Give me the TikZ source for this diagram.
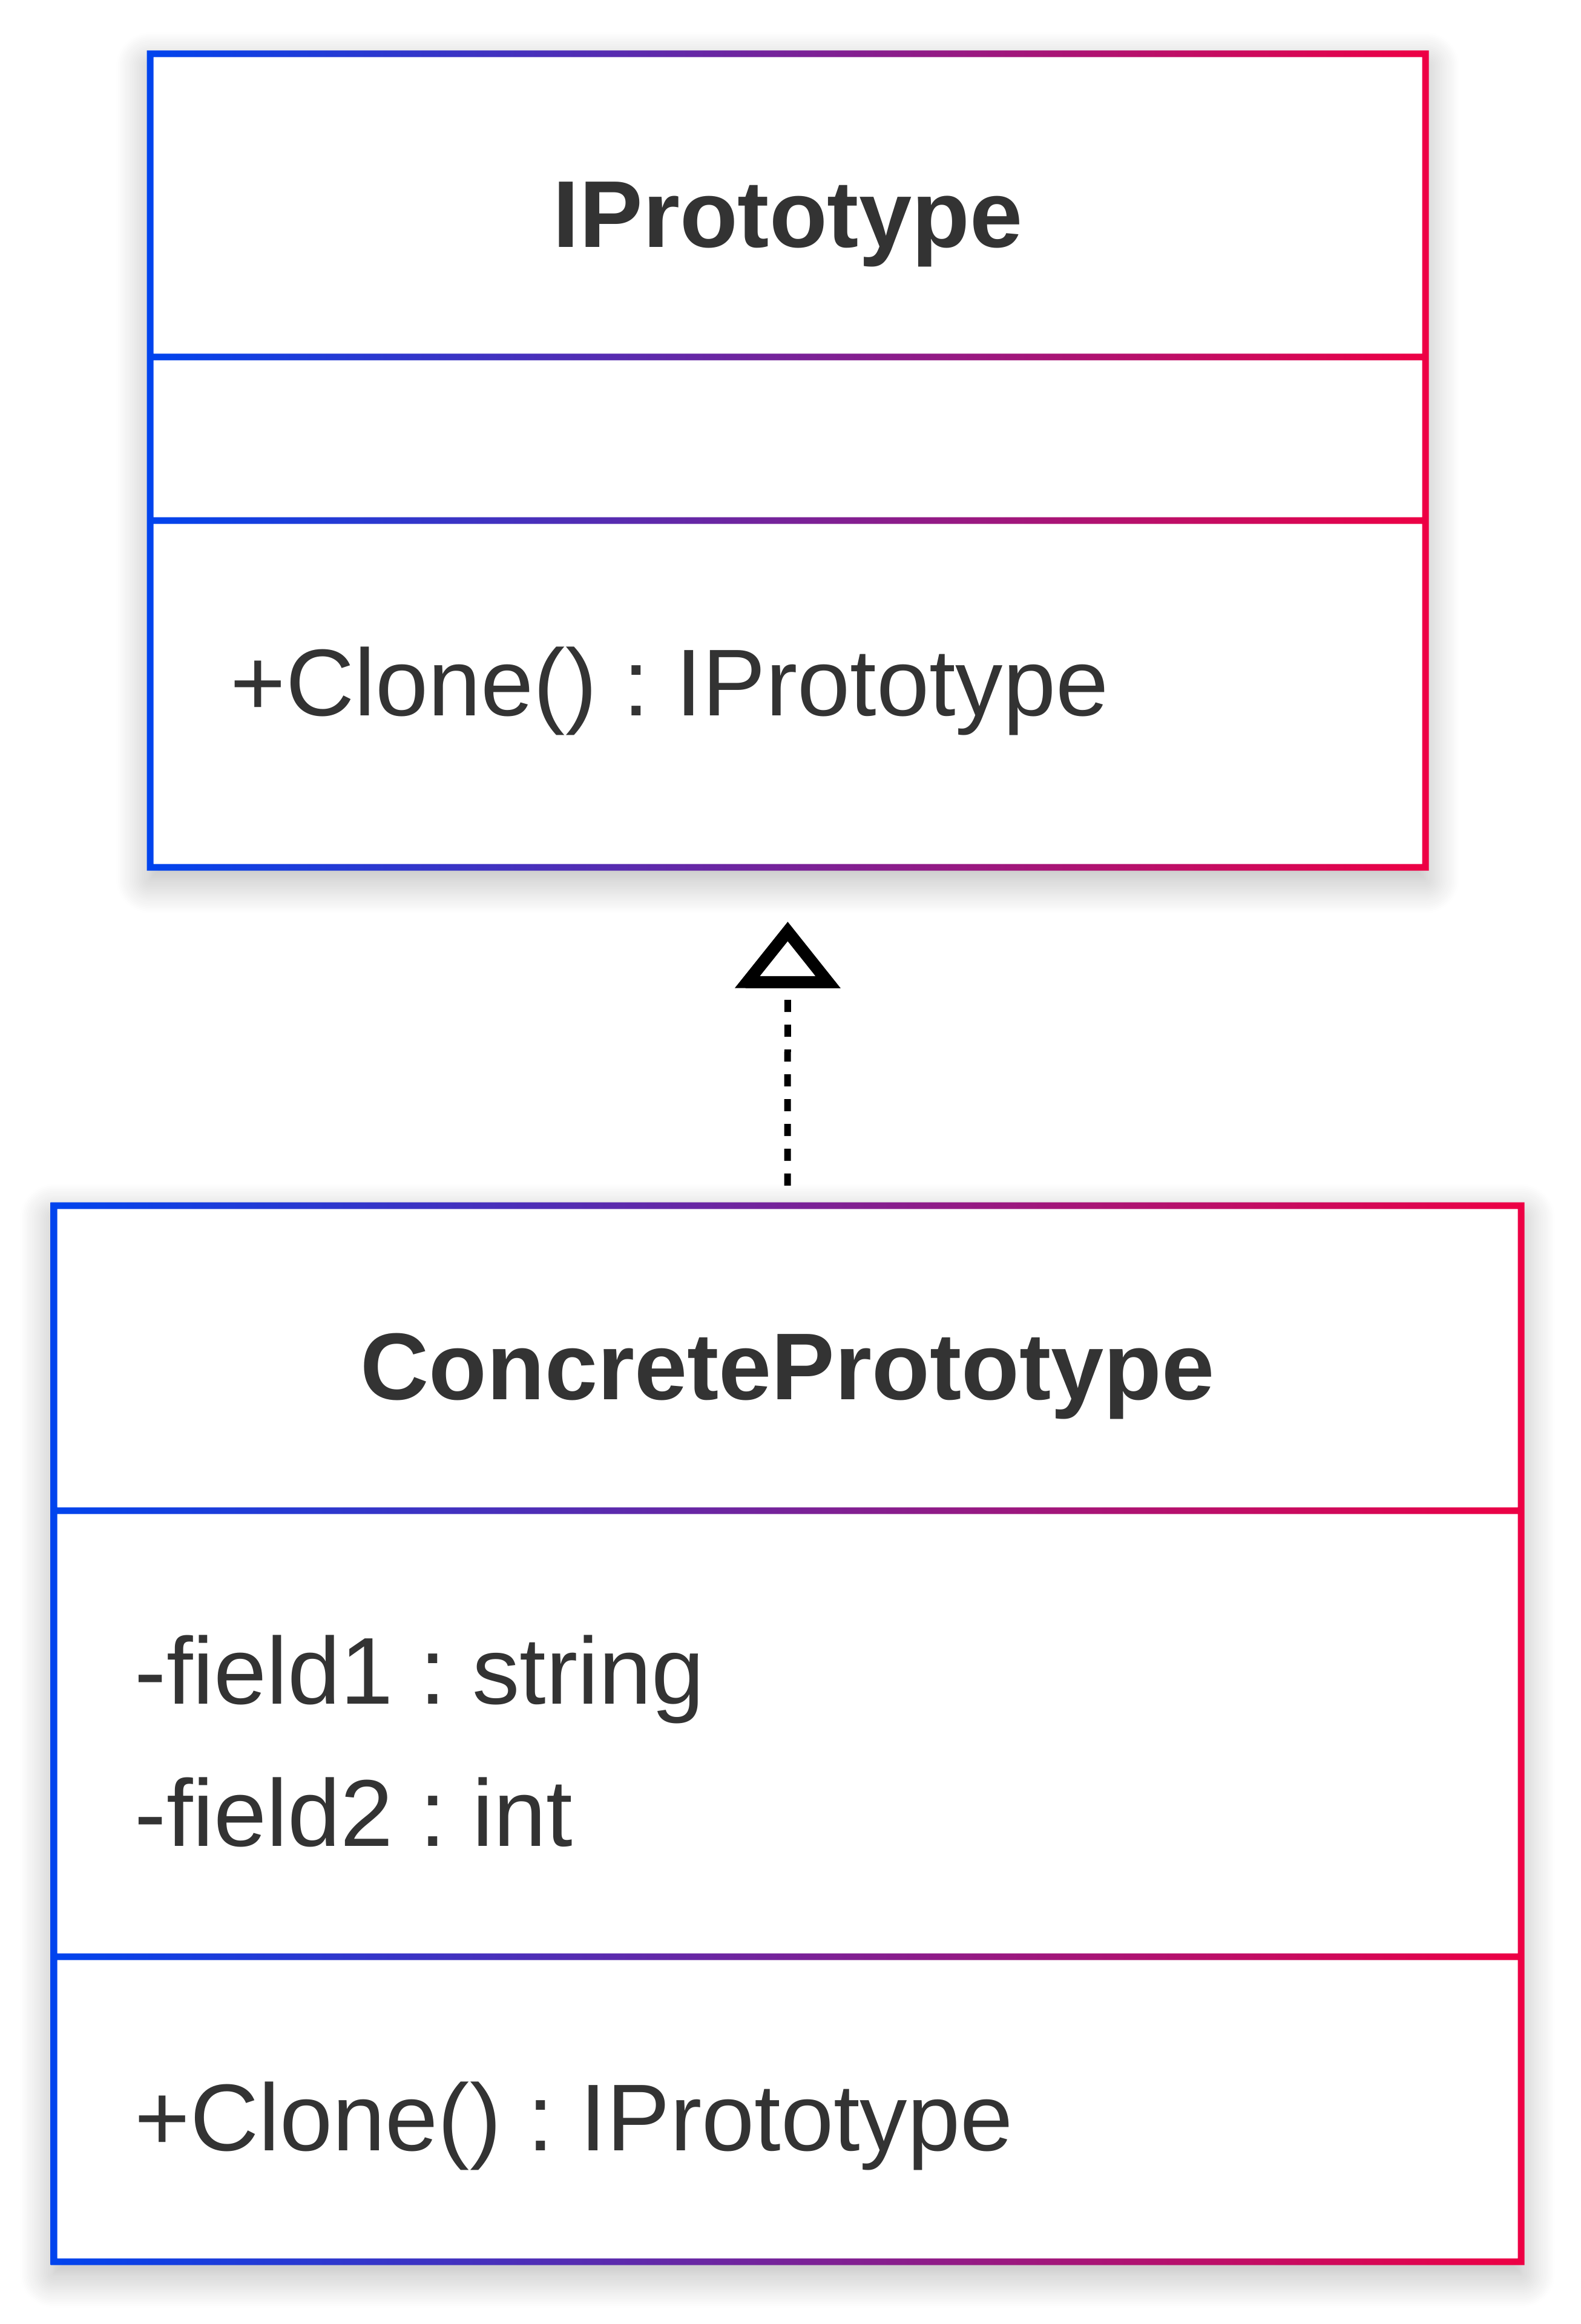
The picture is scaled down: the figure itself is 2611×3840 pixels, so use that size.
\documentclass[tikz,border=0pt]{standalone}
\usepackage{fontspec}
\setmainfont{Liberation Sans}[Ligatures=CommonOff]
\usetikzlibrary{arrows.meta,shadows.blur}
\frenchspacing

\definecolor{umlblue}{HTML}{0044EE}
\definecolor{umlred}{HTML}{EE0044}
\definecolor{umlink}{HTML}{333333}

\tikzset{
  classbox/.style={rectangle, fill=white, inner sep=0pt,
    blur shadow={shadow xshift=0pt, shadow yshift=-5pt,
      shadow blur radius=14pt, shadow blur steps=20, shadow opacity=30}},
  frame/.style={left color=umlblue, right color=umlred},
  classname/.style={anchor=base, inner sep=0pt, text=umlink,
    font=\fontsize{39.2pt}{47pt}\selectfont\bfseries},
  member/.style={anchor=base west, inner sep=0pt, text=umlink,
    font=\fontsize{39.2pt}{47pt}\selectfont},
  realize/.style={line width=2.75pt, dash pattern=on 5pt off 5.25pt,
    -{Triangle[open, length=27.5pt, width=42.5pt, line width=5pt]}}
}

\begin{document}
\begin{tikzpicture}[x=0.25pt, y=-0.25pt]
  \useasboundingbox (0,0) rectangle (2611,3840);
  % class boxes
  \node[classbox, minimum width=526.75pt, minimum height=336pt]
    (proto) at (1301.5,761) {};
  \node[classbox, minimum width=606pt, minimum height=436.25pt]
    (concrete) at (1301,2864.5) {};
  % gradient borders, IPrototype
  \shade[frame]
    (242.5,83.5) rectangle (2360.5,94.5)
    (242.5,1427.5) rectangle (2360.5,1438.5)
    (242.5,83.5) rectangle (253.5,1438.5)
    (2349.5,83.5) rectangle (2360.5,1438.5)
    (242.5,584.5) rectangle (2360.5,595.5)
    (242.5,854.5) rectangle (2360.5,865.5);
  % gradient borders, ConcretePrototype
  \shade[frame]
    (83.5,1986.5) rectangle (2518.5,1997.5)
    (83.5,3731.5) rectangle (2518.5,3742.5)
    (83.5,1986.5) rectangle (94.5,3742.5)
    (2507.5,1986.5) rectangle (2518.5,3742.5)
    (83.5,2490.5) rectangle (2518.5,2501.5)
    (83.5,3227.5) rectangle (2518.5,3238.5);
  % texts
  \node[classname] (protoname) at (1301.5,409) {IPrototype};
  \node[member] (protoclone) at (380,1182) {+Clone() : IPrototype};
  \node[classname] (concretename) at (1301,2312) {ConcretePrototype};
  \node[member] (field1) at (222,2815) {-field1 : string};
  \node[member] (field2) at (222,3050) {-field2 : int};
  \node[member] (concreteclone) at (222,3553) {+Clone() : IPrototype};
  % realization
  \draw[realize, shorten <=8pt, shorten >=22.25pt]
    (concrete.north) -- (proto.south);
\end{tikzpicture}
\end{document}
